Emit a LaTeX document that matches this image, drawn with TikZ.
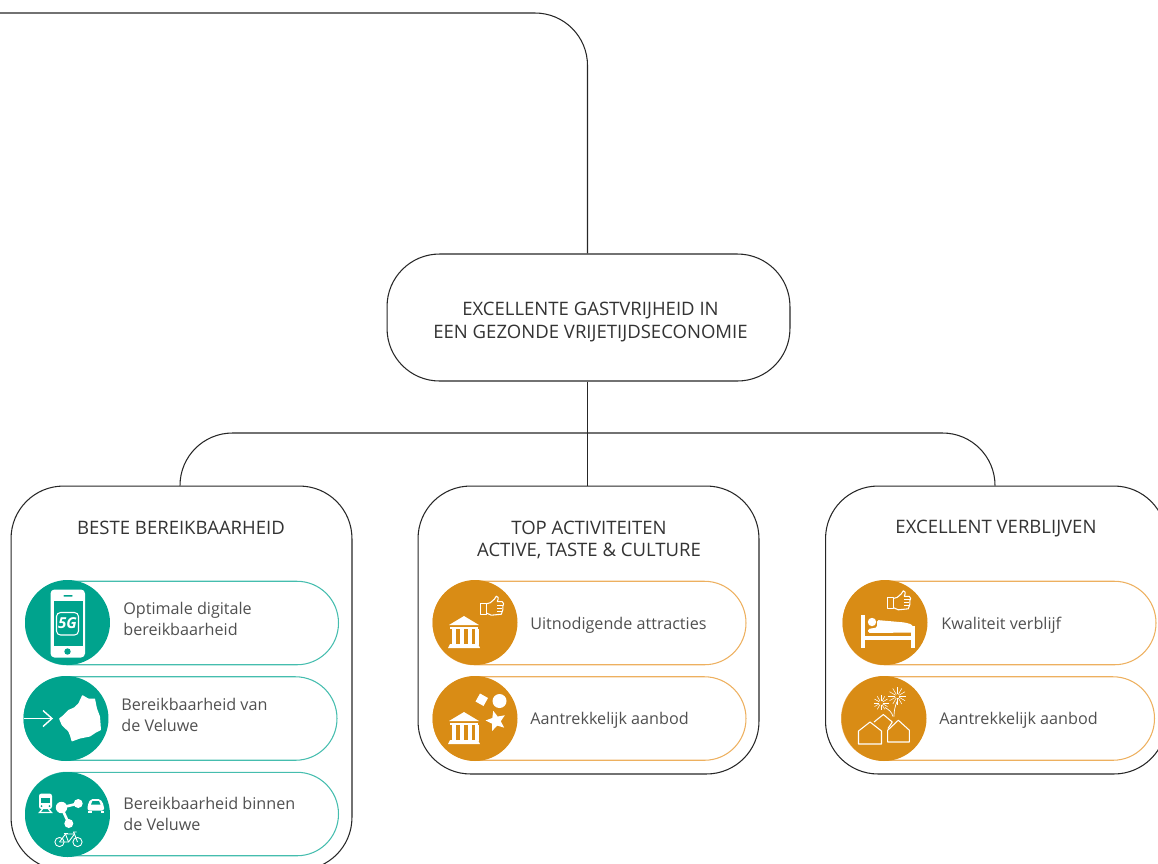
\documentclass[tikz,border=0pt]{standalone}
\usepackage{fontspec}
\setmainfont{Open Sans}
\usetikzlibrary{shapes.geometric}
\definecolor{tealdisc}{HTML}{00A38D}
\definecolor{tealline}{HTML}{45BDAE}
\definecolor{orangedisc}{HTML}{D98C15}
\definecolor{orangeline}{HTML}{EDB05F}
\definecolor{inktext}{HTML}{505050}
\tikzset{
  bigbox/.style={draw=black!85, line width=0.6pt, rectangle, rounded corners=1.05cm, minimum width=6.82cm},
  link/.style={draw=black!85, line width=0.6pt},
  pillteal/.style={draw=tealline, line width=0.6pt, rectangle, rounded corners=0.83cm, minimum height=1.67cm},
  pillorange/.style={pillteal, draw=orangeline},
  discteal/.style={fill=tealdisc, circle, inner sep=0pt, minimum size=1.7cm},
  discorange/.style={discteal, fill=orangedisc},
  headtext/.style={text=black!80, font=\fontsize{10.55pt}{12.6pt}\selectfont, align=center},
  itemtext/.style={text=inktext, font=\fontsize{9.2pt}{11.5pt}\selectfont, align=left, anchor=west, inner sep=0pt},
  iconline/.style={draw=white, line width=0.6pt, line join=round},
}
% iconen, rond (0,0) getekend in pixels
\newcommand{\iconMuseum}{%
  \fill[white] (-15,-7) -- (0,-16) -- (15,-7) -- cycle; % dak
  \fill[white] (-14,-5.5) rectangle (14,-3.5);
  \foreach \colx in {-12.5,-4.5,3.5,10.5} \fill[white] (\colx,-3.5) rectangle ++(4.5,16);
  \fill[white] (-14,12) -- (14,12) -- (16,16) -- (-16,16) -- cycle; % voet
}
\newcommand{\iconThumb}{%
  \draw[iconline] (-11.5,-3) rectangle (-5.5,8); % manchet
  \draw[iconline] (-5.5,-2.5) -- (-2,-3.5) -- (2,-7) -- (4,-10) .. controls (6,-10.5) and (6.5,-8) .. (5,-4.5) -- (10,-4.5) .. controls (12,-4) and (11.5,-1) .. (10.5,0) .. controls (11.5,2) and (10,5) .. (9,8) -- (-1,9) -- (-5.5,7);
  \draw[iconline, line width=0.4pt] (5,-1) -- (10.5,-1) (5,2) -- (10,2) (5,5) -- (9.5,5); % vingers
}
\begin{document}
\begin{tikzpicture}[x=0.02cm, y=-0.02cm]
    \useasboundingbox (0,0) rectangle (1158,863);
    \clip (0,0) rectangle (1158,863);

    \node[bigbox, minimum width=8.06cm, minimum height=2.54cm] (boxCentre) at (588.5,317.5) {};
    \node[headtext] (txtCentre) at (590.5,322) {EXCELLENTE GASTVRIJHEID IN\\EEN GEZONDE VRIJETIJDSECONOMIE};
    \node[bigbox, minimum height=7.68cm] (boxBereik) at (181.5,678) {};
    \node[bigbox, minimum height=5.76cm] (boxActief) at (588.5,630) {};
    \node[bigbox, minimum height=5.76cm] (boxVerblijf) at (996,630) {};
    \node[headtext] (txtBereik) at (181,528) {BESTE BEREIKBAARHEID};
    \node[headtext] (txtActief) at (589,540) {TOP ACTIVITEITEN\\ACTIVE, TASTE \& CULTURE};
    \node[headtext] (txtVerblijf) at (996,529) {EXCELLENT VERBLIJVEN};

    \coordinate (rootEnd) at (-10,13);
    \coordinate (archTop) at (587.5,433);
    \draw[link, rounded corners=1.05cm] (rootEnd) -| ([xshift=-0.02cm]boxCentre.north); % naar boven
    \draw[link, rounded corners=1.05cm] ([xshift=-0.03cm]boxBereik.north) |- (archTop) -| ([xshift=-0.02cm]boxVerblijf.north); % boog
    \draw[link] ([xshift=-0.02cm]boxCentre.south) -- ([xshift=-0.02cm]boxActief.north);

    % linker kolom
    \node[pillteal, minimum width=6.26cm] (pillDigitaal) at (182,623) {};
    \node[pillteal, minimum width=6.26cm] (pillVan) at (180.5,718.5) {};
    \node[pillteal, minimum width=6.26cm] (pillBinnen) at (182,814) {};
    \node[discteal] (discDigitaal) at (67.5,622.5) {};
    \node[discteal] (discVan) at (66,718.5) {};
    \node[discteal] (discBinnen) at (67.5,814.5) {};
    \node[itemtext] (txtDigitaal) at (123,619) {Optimale digitale\\bereikbaarheid};
    \node[itemtext] (txtVan) at (121,715) {Bereikbaarheid van\\de Veluwe};
    \node[itemtext] (txtBinnen) at (123,814) {Bereikbaarheid binnen\\de Veluwe};

    % telefoon
    \begin{scope}[shift={(discDigitaal.center)}]
        \fill[white, rounded corners=0.08cm] (-17,-33) rectangle (17.5,35);
        \fill[tealdisc] (-14,-22) rectangle (15,23);
        \fill[tealdisc, rounded corners=0.01cm] (-4,-27.5) rectangle (5,-26);
        \fill[tealdisc] (0,29) circle (3.2);
        \draw[iconline, rounded corners=0.08cm] (-11,-10) rectangle (11,12.5);
        \node[text=white, font=\bfseries\itshape\fontsize{8.6pt}{9pt}\selectfont, inner sep=0pt] (txtFiveG) at (0,1) {5G};
    \end{scope}

    % kaart van de Veluwe met pijl
    \begin{scope}[shift={(discVan.center)}]
        \fill[white, rounded corners=0.01cm] (-7,0) -- (-3,-3) -- (2.3,-8.5) -- (8,-11) -- (12.3,-15) -- (16.3,-23.5) -- (22.3,-20) -- (29,-20) -- (31,-10) -- (34,-2) -- (35,11.5) -- (30,14) -- (24,18) -- (14,20) -- (5.7,23) -- (4,17) -- (2.3,13) -- (-4.3,6.5) -- cycle;
        \draw[white, line width=0.8pt] (-42.5,0) -- (-14,0);
        \draw[white, line width=0.8pt] (-23,-8) -- (-14,0) -- (-23,8);
    \end{scope}

    % vervoer
    \begin{scope}[shift={(discBinnen.center)}]
        \fill[white, rounded corners=0.05cm] (-28.5,-21) rectangle (-15.5,-5.5); % trein
        \fill[tealdisc] (-26.5,-16.5) rectangle (-17.5,-11.5);
        \fill[tealdisc] (-26,-8.5) circle (1);
        \fill[tealdisc] (-18,-8.5) circle (1);
        \draw[white, line width=0.7pt] (-25,-5.5) -- (-28,-2) -- (-16,-2) -- (-19,-5.5);
        \draw[white, line width=1.5pt] (-6,-7) -- (10.7,-11);
        \draw[white, line width=1.5pt] (-6,-7) -- (1.3,9);
        \fill[white] (-6,-7) circle (5.7);
        \fill[white] (10.7,-11) circle (4.5);
        \fill[white] (1.3,9) circle (4.5);
        \fill[white, rounded corners=0.04cm] (20,-9) -- (23,-15.5) -- (33,-15.5) -- (36.5,-9) -- (36.5,-4) -- (20,-4) -- cycle; % auto
        \fill[tealdisc] (23.5,-10) -- (25,-13.5) -- (31.5,-13.5) -- (33,-10) -- cycle;
        \fill[white] (20.5,-4) rectangle (24,-2);
        \fill[white] (33,-4) rectangle (36,-2);
        \draw[iconline, line width=0.5pt] (-8,27.5) circle (4.6); % fiets
        \draw[iconline, line width=0.5pt] (10,27.5) circle (4.6);
        \draw[iconline, line width=0.5pt] (-8,27.5) -- (-2,19.5) -- (7,19.5) -- (10,27.5);
        \draw[iconline, line width=0.5pt] (-8,27.5) -- (1,27.5) -- (7,19.5);
        \draw[iconline, line width=0.5pt] (-2,19.5) -- (1,27.5);
        \draw[iconline, line width=0.5pt] (-4,18.5) -- (0,18.5);
        \draw[iconline, line width=0.5pt] (7,19.5) -- (6,17.5) -- (9,17.5);
    \end{scope}

    % middelste kolom
    \node[pillorange, minimum width=6.26cm] (pillAttractie) at (589.5,623) {};
    \node[pillorange, minimum width=6.26cm] (pillAanbodA) at (589.5,718.5) {};
    \node[discorange] (discAttractie) at (475,622.5) {};
    \node[discorange] (discAanbodA) at (475,718.5) {};
    \node[itemtext] (txtAttractie) at (530,625) {Uitnodigende attracties};
    \node[itemtext] (txtAanbodA) at (530,720) {Aantrekkelijk aanbod};
    \begin{scope}[shift={(discAttractie.center)}]
        \begin{scope}[shift={(-11,9.5)}] \iconMuseum \end{scope}
        \begin{scope}[shift={(17.3,-16.3)}] \iconThumb \end{scope}
    \end{scope}
    \begin{scope}[shift={(discAanbodA.center)}]
        \begin{scope}[shift={(-11,9.5)}] \iconMuseum \end{scope}
        \fill[white] (5,-25) -- (13,-20.5) -- (8.5,-12.5) -- (0.5,-17) -- cycle; % ruit
        \fill[white] (24.5,-17.5) circle (7);
        \node[star, star points=5, star point ratio=2.2, fill=white, inner sep=0pt, minimum size=0.42cm, rotate=15] (iconStar) at (21,2.5) {};
    \end{scope}

    % rechter kolom
    \node[pillorange, minimum width=6.26cm] (pillKwaliteit) at (999.5,623) {};
    \node[pillorange, minimum width=6.26cm] (pillAanbodB) at (998,718.5) {};
    \node[discorange] (discKwaliteit) at (885,622.5) {};
    \node[discorange] (discAanbodB) at (884,718.5) {};
    \node[itemtext] (txtKwaliteit) at (941,625) {Kwaliteit verblijf};
    \node[itemtext] (txtAanbodB) at (939,720) {Aantrekkelijk aanbod};
    \begin{scope}[shift={(discKwaliteit.center)}]
        \begin{scope}[shift={(14.3,-21.7)}] \iconThumb \end{scope}
        \fill[white] (-24.5,-7.5) rectangle (-20,25); % bed
        \fill[white] (25.5,3) rectangle (30,25);
        \fill[white] (-20,13) rectangle (26,17.5);
        \fill[white] (-13,-0.5) circle (4.2);
        \fill[white, rounded corners=0.03cm] (-8,-2.5) -- (20,0) -- (27,2) -- (30,10) -- (-17,10.5) -- (-17,6.5) -- (-8,5) -- cycle;
    \end{scope}
    \begin{scope}[shift={(discAanbodB.center)}]
        \draw[iconline] (-25.5,25.5) -- (-25.5,12.5) -- (-14,3.5) -- (-2.5,12.5) -- (-2.5,25.5) -- cycle;
        \draw[iconline] (-10,3.5) -- (-0.7,-4) -- (8.3,3.5) -- (4,10);
        \draw[iconline] (3.7,23.5) -- (3.7,11.7) -- (14.3,1.7) -- (25.3,11.7) -- (25.3,23.5) -- cycle;
        \foreach \ang in {0,30,...,330} {
            \draw[white, line width=0.3pt] (-3,-15.7) ++(\ang:2) -- ++(\ang:5.5);
            \draw[white, line width=0.3pt] (13.3,-22.3) ++(\ang:2) -- ++(\ang:7);
        }
        \draw[white, line width=0.4pt] (9,-2) .. controls (8,-6) and (5,-9) .. (1,-11);
        \draw[white, line width=0.4pt] (10,-2) .. controls (10,-8) and (11,-12) .. (13,-17);
    \end{scope}
\end{tikzpicture}
\end{document}
